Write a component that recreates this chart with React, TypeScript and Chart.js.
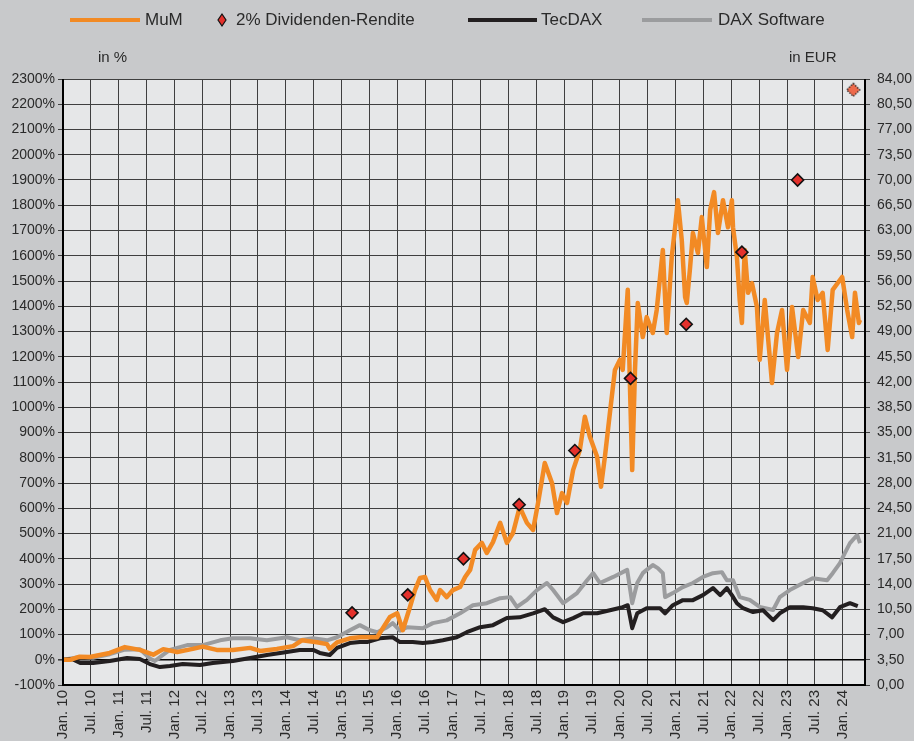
import React, { useEffect, useRef } from 'react';
import { Chart, registerables } from 'chart.js';
Chart.register(...registerables);

// ---- Data (x = decimal year) ----
const mumYears = [2010.00, 2010.13, 2010.30, 2010.48, 2010.84, 2011.11, 2011.38, 2011.62, 2011.80, 2012.05, 2012.33, 2012.51, 2012.76, 2013.05, 2013.36, 2013.54, 2013.84, 2014.13, 2014.29, 2014.56, 2014.74, 2014.79, 2014.92, 2015.15, 2015.33, 2015.64, 2015.87, 2016.00, 2016.10, 2016.23, 2016.32, 2016.41, 2016.50, 2016.59, 2016.71, 2016.77, 2016.89, 2017.00, 2017.13, 2017.22, 2017.31, 2017.40, 2017.52, 2017.61, 2017.72, 2017.85, 2017.97, 2018.08, 2018.20, 2018.33, 2018.44, 2018.53, 2018.65, 2018.78, 2018.87, 2018.96, 2019.05, 2019.16, 2019.28, 2019.37, 2019.46, 2019.59, 2019.66, 2019.73, 2019.82, 2019.91, 2020.00, 2020.05, 2020.14, 2020.18, 2020.22, 2020.27, 2020.32, 2020.41, 2020.48, 2020.59, 2020.66, 2020.77, 2020.84, 2020.93, 2020.99, 2021.04, 2021.11, 2021.17, 2021.20, 2021.26, 2021.31, 2021.40, 2021.47, 2021.56, 2021.62, 2021.69, 2021.76, 2021.85, 2021.94, 2022.01, 2022.03, 2022.10, 2022.15, 2022.19, 2022.24, 2022.30, 2022.37, 2022.46, 2022.51, 2022.60, 2022.73, 2022.82, 2022.91, 2023.00, 2023.09, 2023.20, 2023.29, 2023.41, 2023.46, 2023.55, 2023.64, 2023.73, 2023.82, 2023.95, 2023.99, 2024.08, 2024.17, 2024.22, 2024.29, 2024.31];
const mumPct = [0, 0, 12, 11, 27, 50, 39, 20, 42, 31, 43, 52, 39, 39, 47, 35, 43, 54, 77, 69, 62, 43, 69, 85, 89, 89, 169, 184, 117, 209, 276, 324, 328, 276, 237, 276, 248, 276, 288, 328, 356, 435, 463, 423, 466, 542, 463, 502, 605, 542, 514, 621, 779, 700, 581, 660, 621, 752, 831, 962, 883, 804, 685, 804, 978, 1148, 1188, 1148, 1465, 1081, 751, 1148, 1413, 1278, 1357, 1294, 1385, 1623, 1294, 1595, 1713, 1820, 1662, 1436, 1413, 1555, 1690, 1611, 1753, 1555, 1781, 1852, 1690, 1820, 1713, 1820, 1713, 1595, 1425, 1334, 1623, 1453, 1492, 1397, 1188, 1425, 1096, 1294, 1385, 1148, 1397, 1199, 1385, 1334, 1516, 1425, 1453, 1227, 1465, 1504, 1516, 1385, 1278, 1453, 1334, 1346];

const tecdaxYears = [2010.00, 2010.16, 2010.31, 2010.54, 2010.84, 2011.15, 2011.38, 2011.56, 2011.74, 2011.92, 2012.15, 2012.46, 2012.69, 2013.05, 2013.36, 2013.66, 2014.02, 2014.25, 2014.49, 2014.61, 2014.79, 2014.92, 2015.15, 2015.33, 2015.46, 2015.69, 2015.92, 2016.05, 2016.28, 2016.46, 2016.64, 2016.82, 2017.07, 2017.25, 2017.49, 2017.72, 2017.97, 2018.20, 2018.44, 2018.65, 2018.80, 2018.98, 2019.16, 2019.34, 2019.59, 2019.82, 2020.05, 2020.14, 2020.22, 2020.31, 2020.48, 2020.72, 2020.81, 2020.95, 2021.13, 2021.31, 2021.49, 2021.67, 2021.80, 2021.92, 2022.01, 2022.10, 2022.21, 2022.39, 2022.57, 2022.75, 2022.87, 2023.05, 2023.29, 2023.46, 2023.64, 2023.81, 2023.95, 2024.13, 2024.27];
const tecdaxPct = [0, 3, -13, -13, -5, 7, 3, -17, -29, -25, -17, -21, -13, -5, 7, 19, 31, 39, 39, 27, 19, 47, 66, 70, 70, 85, 89, 70, 70, 66, 70, 77, 89, 109, 129, 137, 165, 168, 184, 200, 168, 149, 165, 184, 184, 196, 208, 216, 125, 184, 204, 204, 184, 216, 236, 236, 256, 284, 256, 284, 256, 224, 204, 189, 196, 157, 184, 208, 208, 204, 196, 168, 208, 224, 212];

const softwareYears = [2010.00, 2010.31, 2010.54, 2010.84, 2011.11, 2011.38, 2011.56, 2011.65, 2011.80, 2011.92, 2012.23, 2012.51, 2012.82, 2013.05, 2013.36, 2013.66, 2014.02, 2014.25, 2014.49, 2014.74, 2014.92, 2015.15, 2015.33, 2015.51, 2015.64, 2015.82, 2015.92, 2016.05, 2016.18, 2016.46, 2016.64, 2016.89, 2017.13, 2017.36, 2017.61, 2017.85, 2018.03, 2018.15, 2018.33, 2018.51, 2018.69, 2018.80, 2018.98, 2019.23, 2019.41, 2019.52, 2019.64, 2019.88, 2020.13, 2020.22, 2020.31, 2020.41, 2020.48, 2020.59, 2020.68, 2020.77, 2020.81, 2020.95, 2021.13, 2021.31, 2021.49, 2021.67, 2021.83, 2021.92, 2022.03, 2022.15, 2022.33, 2022.51, 2022.75, 2022.87, 2023.05, 2023.29, 2023.46, 2023.72, 2023.82, 2023.95, 2024.04, 2024.13, 2024.26, 2024.31];
const softwarePct = [0, 11, 8, 22, 40, 42, 5, -5, 20, 39, 58, 58, 77, 85, 85, 77, 89, 77, 85, 77, 89, 117, 137, 117, 109, 129, 145, 115, 129, 125, 145, 156, 184, 216, 224, 244, 248, 209, 237, 276, 304, 276, 224, 264, 315, 343, 304, 328, 356, 224, 304, 343, 356, 375, 363, 343, 248, 264, 288, 304, 328, 343, 347, 315, 315, 248, 237, 209, 197, 248, 276, 304, 323, 315, 343, 383, 423, 462, 494, 462];

// 2% Dividenden-Rendite (in EUR, right axis); last one is the forecast
const dividendYears = [2015.19, 2016.19, 2017.19, 2018.19, 2019.19, 2020.19, 2021.19, 2022.19, 2023.19, 2024.19];
const dividendEur = [10, 12.5, 17.5, 25, 32.5, 42.5, 50, 60, 70, 82.5];

const xTickLabels = [
  'Jan. 10', 'Jul. 10', 'Jan. 11', 'Jul. 11', 'Jan. 12', 'Jul. 12', 'Jan. 13', 'Jul. 13',
  'Jan. 14', 'Jul. 14', 'Jan. 15', 'Jul. 15', 'Jan. 16', 'Jul. 16', 'Jan. 17', 'Jul. 17',
  'Jan. 18', 'Jul. 18', 'Jan. 19', 'Jul. 19', 'Jan. 20', 'Jul. 20', 'Jan. 21', 'Jul. 21',
  'Jan. 22', 'Jul. 22', 'Jan. 23', 'Jul. 23', 'Jan. 24',
];

const FONT = "'Liberation Sans', Arial, sans-serif";
const TEXT = '#2a2a2a';
const ORANGE = '#f28a24';
const BLACK = '#231f20';
const GRAY = '#9b9c9e';
const RED = '#e4312c';

const pairs = (xs: number[], ys: number[]) => xs.map((x, i) => ({ x, y: ys[i] }));

export default function App() {
  const ref = useRef<HTMLCanvasElement>(null);

  useEffect(() => {
    const canvas = ref.current!;

    // forecast diamond (dotted outline)
    const fc = document.createElement('canvas');
    fc.width = 16; fc.height = 16;
    const c = fc.getContext('2d')!;
    c.beginPath();
    c.moveTo(8, 1.5); c.lineTo(14.5, 8); c.lineTo(8, 14.5); c.lineTo(1.5, 8); c.closePath();
    c.fillStyle = '#ee6a4b'; c.fill();
    c.setLineDash([1.4, 1.4]); c.lineWidth = 1.3; c.strokeStyle = '#111'; c.stroke();

    const deco = {
      id: 'deco',
      beforeDraw(chart: any) {
        const { ctx, chartArea: a } = chart;
        ctx.save();
        ctx.fillStyle = '#c8c9cb';
        ctx.fillRect(0, 0, chart.width, chart.height);
        ctx.fillStyle = '#e6e7e8';
        ctx.fillRect(a.left, a.top, a.right - a.left, a.bottom - a.top);
        ctx.restore();
      },
      afterDatasetsDraw(chart: any) {
        const { ctx, chartArea: a } = chart;
        ctx.save();
        ctx.strokeStyle = '#000';
        ctx.lineWidth = 2;
        ctx.beginPath();
        ctx.moveTo(a.left, a.top); ctx.lineTo(a.left, a.bottom); ctx.lineTo(a.right, a.bottom); ctx.lineTo(a.right, a.top);
        ctx.stroke();
        ctx.restore();
      },
      afterDraw(chart: any) {
        const ctx = chart.ctx;
        ctx.save();
        ctx.textBaseline = 'middle';
        ctx.textAlign = 'left';
        ctx.fillStyle = TEXT;
        ctx.font = `17px ${FONT}`;
        const ly = 20;
        const line = (x1: number, x2: number, col: string) => {
          ctx.strokeStyle = col; ctx.lineWidth = 4; ctx.lineCap = 'butt';
          ctx.beginPath(); ctx.moveTo(x1, ly); ctx.lineTo(x2, ly); ctx.stroke();
        };
        line(70, 140, ORANGE);
        ctx.fillText('MuM', 145, ly);
        // legend diamond
        ctx.beginPath();
        ctx.moveTo(222, ly - 6); ctx.lineTo(226, ly); ctx.lineTo(222, ly + 6); ctx.lineTo(218, ly); ctx.closePath();
        ctx.fillStyle = RED; ctx.fill();
        ctx.strokeStyle = '#111'; ctx.lineWidth = 1.2; ctx.stroke();
        ctx.fillStyle = TEXT;
        ctx.fillText('2% Dividenden-Rendite', 236, ly);
        line(468, 537, BLACK);
        ctx.fillText('TecDAX', 541, ly);
        line(642, 712, GRAY);
        ctx.fillText('DAX Software', 718, ly);
        ctx.font = `15px ${FONT}`;
        ctx.fillText('in %', 98, 58);
        ctx.fillText('in EUR', 789, 58);
        ctx.restore();
      },
    };

    const tickFont = { family: FONT, size: 14 };

    const chart = new Chart(canvas, {
      type: 'line',
      data: {
        datasets: [
          {
            label: '2% Dividenden-Rendite',
            data: pairs(dividendYears, dividendEur),
            yAxisID: 'y1',
            showLine: false,
            pointRadius: 6,
            pointHoverRadius: 6,
            pointBorderWidth: 1.6,
            pointBackgroundColor: RED,
            pointBorderColor: '#111',
            pointStyle: (ctx: any) => (ctx.dataIndex === dividendEur.length - 1 ? fc : 'rectRot'),
          } as any,
          {
            label: 'MuM',
            data: pairs(mumYears, mumPct),
            yAxisID: 'y',
            borderColor: ORANGE,
            borderWidth: 4.5,
            pointRadius: 0,
            tension: 0,
            borderJoinStyle: 'round',
          },
          {
            label: 'TecDAX',
            data: pairs(tecdaxYears, tecdaxPct),
            yAxisID: 'y',
            borderColor: BLACK,
            borderWidth: 4,
            pointRadius: 0,
            tension: 0,
            borderJoinStyle: 'round',
          },
          {
            label: 'DAX Software',
            data: pairs(softwareYears, softwarePct),
            yAxisID: 'y',
            borderColor: GRAY,
            borderWidth: 4,
            pointRadius: 0,
            tension: 0,
            borderJoinStyle: 'round',
          },
        ],
      },
      options: {
        responsive: false,
        animation: false,
        devicePixelRatio: 1,
        layout: { padding: { top: 79, left: 0, right: 0, bottom: 0 } },
        plugins: { legend: { display: false }, tooltip: { enabled: false } },
        scales: {
          x: {
            type: 'linear',
            min: 2010,
            max: 2024.4,
            afterFit: (s: any) => { s.height = 56; },
            border: { display: false },
            grid: { color: '#3f3f3f', lineWidth: 1, drawTicks: false },
            ticks: {
              stepSize: 0.5,
              includeBounds: false,
              autoSkip: false,
              maxRotation: 90,
              minRotation: 90,
              padding: 5,
              color: TEXT,
              font: { family: FONT, size: 15 },
              callback: (v: any) => xTickLabels[Math.round((Number(v) - 2010) * 2)] ?? '',
            },
          },
          y: {
            type: 'linear',
            position: 'left',
            min: -100,
            max: 2300,
            afterFit: (s: any) => { s.width = 63; },
            border: { display: false },
            grid: {
              color: (ctx: any) => (ctx.tick && ctx.tick.value === 0 ? '#000' : '#3f3f3f'),
              lineWidth: (ctx: any) => (ctx.tick && ctx.tick.value === 0 ? 1.6 : 1),
              tickLength: 5,
              tickColor: '#3f3f3f',
            },
            ticks: {
              stepSize: 100,
              padding: 3,
              color: TEXT,
              font: tickFont,
              callback: (v: any) => `${v}%`,
            },
          },
          y1: {
            type: 'linear',
            position: 'right',
            min: 0,
            max: 84,
            afterFit: (s: any) => { s.width = 49; },
            border: { display: false },
            grid: { drawOnChartArea: false, tickLength: 5, tickColor: '#3f3f3f' },
            ticks: {
              stepSize: 3.5,
              padding: 7,
              color: TEXT,
              font: tickFont,
              callback: (v: any) => Number(v).toFixed(2).replace('.', ','),
            },
          },
        },
      } as any,
      plugins: [deco],
    });

    return () => chart.destroy();
  }, []);

  return (
    <div style={{ position: 'fixed', left: 0, top: 0, width: 914, height: 741, background: '#c8c9cb', overflow: 'hidden' }}>
      <canvas ref={ref} width={914} height={741} style={{ display: 'block', width: 914, height: 741 }} />
    </div>
  );
}
